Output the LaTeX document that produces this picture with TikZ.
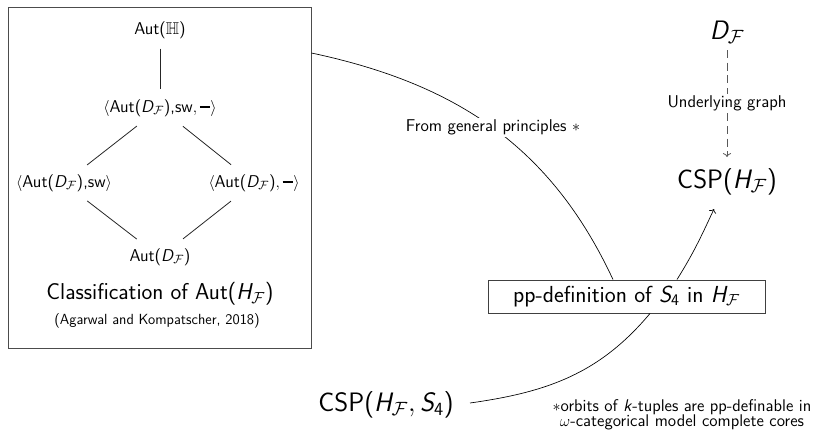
\documentclass[tikz,border=0pt]{standalone}
\usepackage{amsmath,amssymb}
\usepackage{fontspec}
\renewcommand{\familydefault}{\sfdefault}
\usetikzlibrary{arrows.meta}

% slanted sans letters for the math symbols
\newcommand{\sli}[1]{\text{\slshape #1}}
\newcommand{\HF}{\sli{H}_{\mathcal{F}}}
\newcommand{\DF}{\sli{D}_{\mathcal{F}}}
\newcommand{\Sfour}{\sli{S}_{\text{4}}}
\newcommand{\flipbar}{\text{\rule[0.27em]{0.62em}{0.085em}}}

\begin{document}
\begin{tikzpicture}[x=0.75pt,y=0.75pt,
  lat/.style={font=\fontsize{12.8}{15}\selectfont, inner sep=1pt},
  latline/.style={draw=black!85, line width=0.6pt, shorten <=22pt, shorten >=22pt},
  big/.style={font=\fontsize{20}{24}\selectfont, inner sep=1pt},
  lbl/.style={font=\fontsize{12.8}{15}\selectfont, fill=white, inner sep=1.5pt},
  frame/.style={draw=black!70, line width=0.7pt},
  curve/.style={draw=black, line width=0.5pt}]
\useasboundingbox (0,0) rectangle (817,430);

% outer frame of the lattice
\node[frame, minimum width=303*0.75pt, minimum height=341*0.75pt, inner sep=0pt] (frame) at (159.5,252.5) {};

% lattice of automorphism groups
\node[lat] (top) at (160,400) {Aut($\mathbb{H}$)};
\node[lat] (mid) at (160,322) {$\langle$Aut($\DF$),sw$,\flipbar\rangle$};
\node[lat] (lft) at (64,247) {$\langle$Aut($\DF$),sw$\rangle$};
\node[lat] (rgt) at (254,247) {$\langle$Aut($\DF$)$,\flipbar\rangle$};
\node[lat] (bot) at (160,173) {Aut($\DF$)};

\draw[latline, shorten <=14pt, shorten >=14pt] (top.center) -- (mid.center);
\draw[latline] (mid.center) -- (lft.center);
\draw[latline] (mid.center) -- (rgt.center);
\draw[latline] (lft.center) -- (bot.center);
\draw[latline] (rgt.center) -- (bot.center);

\node[font=\fontsize{17.2}{20}\selectfont, inner sep=1pt] (cls) at (160,136) {Classification of Aut($\HF$)};
\node[font=\fontsize{11}{13}\selectfont, inner sep=1pt] (ref) at (157,109) {(Agarwal and Kompatscher, 2018)};

% right-hand side
\node[big] (D) at (727,398) {$\DF$};
\node[big] (csp) at (727,248) {CSP($\HF$)};
\node[draw=black!75, line width=0.7pt, minimum width=277*0.75pt, minimum height=33*0.75pt, inner sep=0pt,
      font=\fontsize{17.4}{20}\selectfont] (pp) at (626.5,133.5) {pp-definition of $\Sfour$ in $\HF$};
\node[big] (csps) at (386,25) {CSP($\HF,\Sfour$)};

\node[font=\fontsize{12.7}{14}\selectfont, align=center, inner sep=0pt] (note) at (682,15)
  {$\ast$orbits of \textsl{k}-tuples are pp-definable in\\[-2.5pt] $\omega$-categorical model complete cores};

% end points of the connectors
\coordinate (fromframe) at (frame.east |- 0,377);
\coordinate (cspin) at (714,221);
\coordinate (cspsout) at (470,27);
\coordinate (Dout) at (727,380);
\coordinate (cspdash) at (727,273);

% connectors
\draw[curve] (fromframe) to[out=-12, in=115]
  node[lbl, pos=0.5] {From general principles $\ast$} (pp.north -| 613,0);
\draw[curve, ->] (pp.north -| 677,0) to[out=58, in=-115] (cspin);
\draw[curve] (cspsout) to[out=8, in=-130] (pp.south -| 650,0);
\draw[draw=black!65, line width=0.6pt, dash pattern=on 6pt off 3.5pt, ->] (Dout) --
  node[lbl] {Underlying graph} (cspdash);
\end{tikzpicture}
\end{document}
